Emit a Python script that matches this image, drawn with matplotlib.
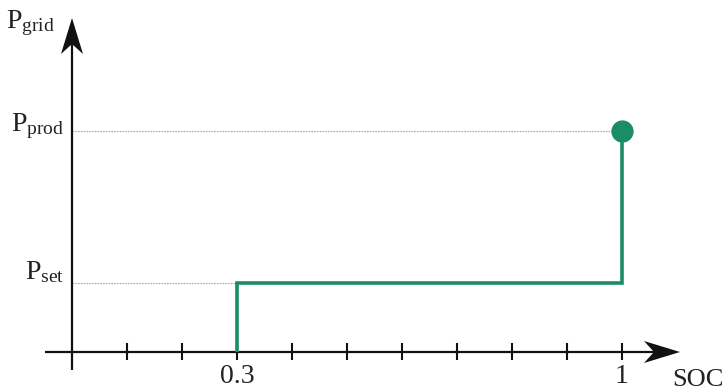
import matplotlib
matplotlib.use("Agg")
import matplotlib.pyplot as plt
from matplotlib.patches import Polygon

# Grid-power control characteristic versus battery state of charge
p_set = 0.31
p_prod = 1.0
soc_curve = [0.3, 0.3, 1.0, 1.0]
p_curve = [0.0, p_set, p_set, p_prod]
tick_positions = [0.1, 0.2, 0.3, 0.4, 0.5, 0.6, 0.7, 0.8, 0.9, 1.0]
labelled_ticks = [0.3, 1.0]
labelled_tick_text = ["0.3", "1"]
level_values = [p_prod, p_set]
level_labels = [r"$\mathrm{P}_{\mathrm{prod}}$", r"$\mathrm{P}_{\mathrm{set}}$"]

plt.rcParams["mathtext.fontset"] = "custom"
plt.rcParams["mathtext.rm"] = "Liberation Serif"
plt.rcParams["mathtext.it"] = "Liberation Serif:italic"
plt.rcParams["font.family"] = ["Liberation Serif", "DejaVu Serif"]

W, H = 727, 392
fig = plt.figure(figsize=(W / 100, H / 100), dpi=100)
ax = fig.add_axes([0, 0, 1, 1])

# pixel layout: SOC 0 at x=72, 0.1 SOC = 55 px; P=0 at y=352, 1 unit = 221 px
x0_px, sx = 72, 550.0
y0_px, sy = 352, 221.0
ax.set_xlim(-x0_px / sx, (W - x0_px) / sx)
ax.set_ylim(-(H - y0_px) / sy, y0_px / sy)
ax.axis("off")

px = 1.0 / sx   # one pixel in x data units
py = 1.0 / sy   # one pixel in y data units

axis_color = "#111111"
green = "#1a8c66"

# axes lines
x_tip = (680 - x0_px) / sx
y_tip = (y0_px - 18) / sy
ax.plot([-27 * px, x_tip - 20 * px], [0, 0], color=axis_color, lw=1.6,
        solid_capstyle="butt", zorder=3)
ax.plot([0, 0], [-18 * py, y_tip - 20 * py], color=axis_color, lw=1.6,
        solid_capstyle="butt", zorder=3)

# stealth-style arrow heads
hl, hw, notch = 36, 11, 26
ax.add_patch(Polygon([[x_tip, 0],
                      [x_tip - hl * px, hw * py],
                      [x_tip - notch * px, 0],
                      [x_tip - hl * px, -hw * py]],
                     closed=True, color=axis_color, zorder=4, lw=0))
ax.add_patch(Polygon([[0, y_tip],
                      [hw * px, y_tip - hl * py],
                      [0, y_tip - notch * py],
                      [-hw * px, y_tip - hl * py]],
                     closed=True, color=axis_color, zorder=4, lw=0))

# tick marks on the SOC axis
for t in tick_positions:
    ax.plot([t, t], [-8 * py, 9 * py], color=axis_color, lw=1.5,
            solid_capstyle="butt", zorder=3)

# dotted guide lines for the power levels
for v in level_values:
    ax.plot([0, 1.0], [v, v], color="#a8a8a8", lw=0.8,
            linestyle=(0, (1.5, 1)), zorder=1)

# characteristic curve
ax.plot(soc_curve, p_curve, color=green, lw=2.6, solid_joinstyle="miter",
        solid_capstyle="butt", zorder=5)
ax.plot([soc_curve[-1]], [p_curve[-1]], "o", color=green, ms=15, zorder=6)

# labels
fs_main = 20
for v, lab, dy in zip(level_values, level_labels, [0, 4]):
    ax.text(-8 * px, v + dy * py, lab, ha="right", va="baseline",
            fontsize=fs_main, color="#222222")
ax.text(-17 * px, (y0_px - 28) * py, r"$\mathrm{P}_{\mathrm{grid}}$",
        ha="right", va="baseline", fontsize=fs_main, color="#222222")
for t, s in zip(labelled_ticks, labelled_tick_text):
    ax.text(t, -31 * py, s, ha="center", va="baseline",
            fontsize=fs_main, color="#222222")
ax.text(x_tip - 8 * px, -34 * py, "SOC", ha="left", va="baseline",
        fontsize=19, color="#222222")

fig.savefig("out.png", dpi=100)
